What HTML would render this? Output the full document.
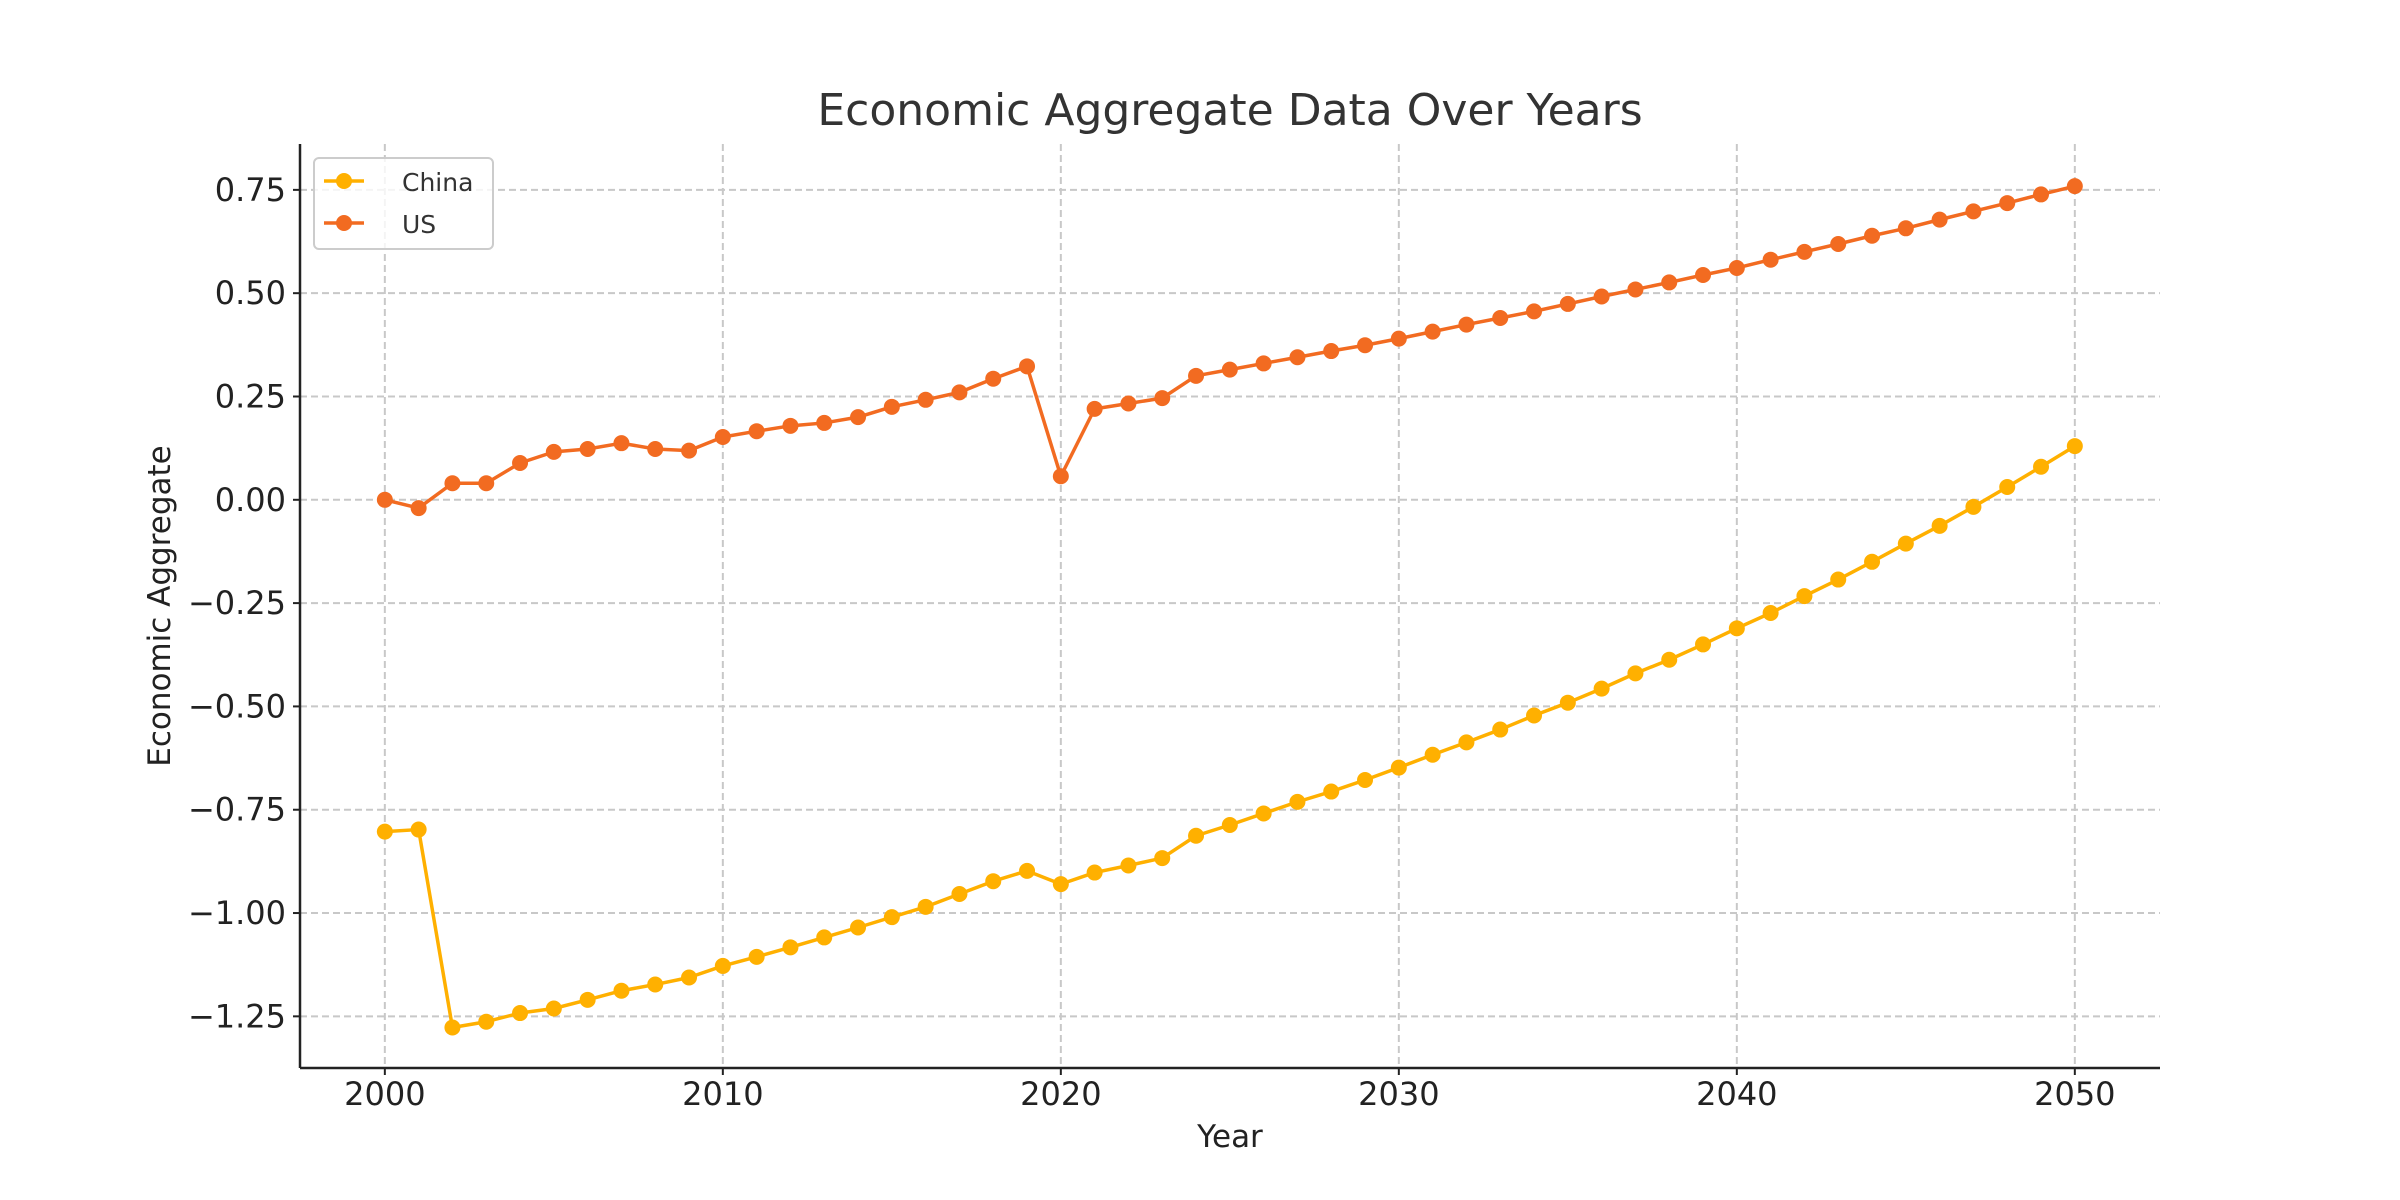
<!DOCTYPE html>
<html><head><meta charset="utf-8"><style>
html,body{margin:0;padding:0;background:#fff;}
svg{display:block;font-family:"DejaVu Sans","Liberation Sans",sans-serif;}
</style></head><body>
<svg id="chart" width="2400" height="1200" viewBox="0 0 2400 1200">
<text x="1230" y="125" text-anchor="middle" font-size="44" fill="#333">Economic Aggregate Data Over Years</text>
<g id="grid"></g>
<g id="axes"></g>
<g id="series"></g>
<text x="1230" y="1147" text-anchor="middle" font-size="31" fill="#222">Year</text>
<text transform="translate(170,606) rotate(-90)" text-anchor="middle" font-size="31" fill="#222">Economic Aggregate</text>
<g>
<rect x="314" y="158" width="179" height="91" rx="5" fill="#fff" fill-opacity="0.8" stroke="#ccc" stroke-width="2"/>
<g>
<line x1="324" y1="181" x2="364" y2="181" stroke="#FFB000" stroke-width="3.5"/>
<circle cx="344" cy="181" r="8" fill="#FFB000"/>
<text x="402" y="191" font-size="25" fill="#333">China</text></g>
<g>
<line x1="324" y1="223" x2="364" y2="223" stroke="#F26B21" stroke-width="3.5"/>
<circle cx="344" cy="223" r="8" fill="#F26B21"/>
<text x="402" y="233" font-size="25" fill="#333">US</text></g>
</g>
</svg>
<script>
const years = [];
for (let y = 2000; y <= 2050; y++) years.push(y);
const chinaValues = [-0.803,-0.798,-1.277,-1.263,-1.242,-1.231,-1.210,-1.188,-1.173,-1.156,-1.128,-1.106,-1.083,-1.059,-1.035,-1.010,-0.985,-0.954,-0.923,-0.898,-0.930,-0.902,-0.885,-0.867,-0.813,-0.787,-0.759,-0.731,-0.706,-0.678,-0.648,-0.617,-0.587,-0.556,-0.522,-0.491,-0.457,-0.420,-0.387,-0.350,-0.311,-0.274,-0.233,-0.193,-0.150,-0.106,-0.063,-0.017,0.031,0.080,0.130];
const usValues = [0,-0.020,0.040,0.040,0.089,0.116,0.123,0.137,0.123,0.119,0.152,0.166,0.179,0.186,0.200,0.225,0.242,0.260,0.293,0.323,0.057,0.220,0.233,0.246,0.300,0.315,0.330,0.345,0.360,0.374,0.390,0.407,0.424,0.440,0.456,0.474,0.492,0.509,0.526,0.544,0.561,0.581,0.600,0.619,0.639,0.657,0.678,0.698,0.718,0.739,0.759];
const xTicks = [2000,2010,2020,2030,2040,2050];
const yTicks = [-1.25,-1.0,-0.75,-0.5,-0.25,0,0.25,0.5,0.75];
const yTickLabels = ["\u22121.25","\u22121.00","\u22120.75","\u22120.50","\u22120.25","0.00","0.25","0.50","0.75"];

const L=300,R=2160,T=144,B=1068;
const xMin=1997.49,xMax=2052.52,yMin=-1.375,yMax=0.861;
const xs=v=>L+(v-xMin)/(xMax-xMin)*(R-L);
const ys=v=>B-(v-yMin)/(yMax-yMin)*(B-T);
const NS="http://www.w3.org/2000/svg";
function mk(tag,attrs,parent){const e=document.createElementNS(NS,tag);for(const k in attrs)e.setAttribute(k,attrs[k]);parent.appendChild(e);return e;}
const grid=document.getElementById('grid'),axes=document.getElementById('axes'),series=document.getElementById('series');
xTicks.forEach(t=>{
  const g=mk('line',{x1:xs(t),x2:xs(t),y1:T,y2:B,stroke:'#c8c8c8','stroke-width':2,'stroke-dasharray':'7,4'},grid);
  
  
  const tk=mk('line',{x1:xs(t),x2:xs(t),y1:B,y2:B+7,stroke:'#222','stroke-width':2},axes);
  
  
  const tx=mk('text',{x:xs(t),y:1105,'text-anchor':'middle','font-size':32,fill:'#222'},axes);
  tx.textContent=t;
  
  
});
yTicks.forEach((t,i)=>{
  const g=mk('line',{x1:L,x2:R,y1:ys(t),y2:ys(t),stroke:'#c8c8c8','stroke-width':2,'stroke-dasharray':'7,4'},grid);
  
  
  const tk=mk('line',{x1:L-7,x2:L,y1:ys(t),y2:ys(t),stroke:'#222','stroke-width':2},axes);
  
  
  const tx=mk('text',{x:L-14,y:ys(t)+11,'text-anchor':'end','font-size':32,fill:'#222'},axes);
  tx.textContent=yTickLabels[i];
  
  
});
const sp1=mk('line',{x1:L,x2:L,y1:T,y2:B,stroke:'#222','stroke-width':2.5},axes);


const sp2=mk('line',{x1:L,x2:R,y1:B,y2:B,stroke:'#222','stroke-width':2.5},axes);


function drawSeries(vals,color,name){
  const g=mk('g',{},series);
  
  
  const pl=mk('polyline',{points:vals.map((v,i)=>xs(years[i])+','+ys(v)).join(' '),fill:'none',stroke:color,'stroke-width':3.5,'stroke-linejoin':'round'},g);
  
  
  vals.forEach((v,i)=>{
    const c=mk('circle',{cx:xs(years[i]),cy:ys(v),r:8,fill:color},g);
    
    
  });
}
drawSeries(chinaValues,'#FFB000','china');
drawSeries(usValues,'#F26B21','us');
</script>
</body></html>
